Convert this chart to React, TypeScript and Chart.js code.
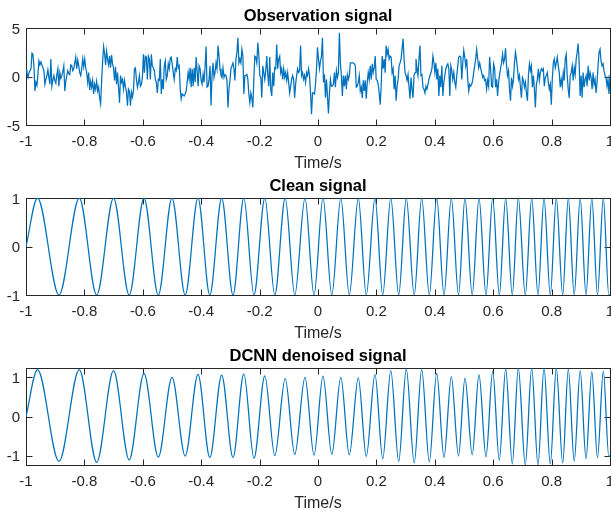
import React, { useEffect, useRef } from "react";
import { Chart, registerables } from "chart.js";

Chart.register(...registerables);

// ---------- axis ticks ----------
const xTickValues = [-1, -0.8, -0.6, -0.4, -0.2, 0, 0.2, 0.4, 0.6, 0.8, 1];
const xTickLabels = ["-1", "-0.8", "-0.6", "-0.4", "-0.2", "0", "0.2", "0.4", "0.6", "0.8", "1"];
const obsYTicks = [-5, 0, 5];
const cleanYTicks = [-1, 0, 1];
const denoisedYTicks = [-1, 0, 1];

// ---------- observation signal (noisy), read left to right ----------
const obsPart1 = [0.7,0.3,-0.1,0.4,0.6,0.8,2.4,2.3,1.0,-1.5,-0.6,-0.9,0.2,1.6,1.2,1.5,1.2,0.9,0.6,-0.8,-0.3,0.1,0.7,-0.1,-0.8,1.8,-1.0,-0.4,0.1,-0.4,-0.7,0.2,0.8,-1.0,0.4,-0.2,0.1,0.5,1.1,-1.5,-0.5,0.1,0.6,0.3,0.2,1.2,1.1,0.6,0.8,1.4,2.0,0.8,1.7,1.1,0.4,0.1,0.8,1.8,1.0,1.8,0.9,0.4,-0.6,0.4,-1.4,-0.5,-1.1,-0.4,-1.8,-0.8,-1.3,-0.5,-1.5,-1.1,-2.2,-2.8,-0.5,1.5,3.1,2.4,1.2,2.6,1.8,1.2,2.1,0.9,2.2,1.3,0.9,-0.4,1.0,-0.8,0.4,-1.1,-2.7,0.1,-0.6,-0.3,-1.3,-0.4,-1.1,-1.6,-3.0,-1.3,-1.5,-3.0,-1.6,-2.1,-1.5,0.8,0.9,-0.3,-1.1,-0.6,0.1,-1.0,-0.8,-0.1,2.3,0.4,2.1,2.0,-0.3,2.1,1.8,-0.3,2.3,1.1,0.9,0.6,-0.3,-0.6,-1.7,-0.3,-0.4,1.8,-1.8,-0.3,-1.3,1.1,1.6,-0.3,0.1,1.3,0.8,1.9];
const obsPart2 = [2.0,1.2,0.4,-0.3,0.8,0.6,2.0,0.9,1.1,-1.3,-2.3,-1.8,-1.9,-2.0,-1.8,-1.5,-0.6,0.4,-0.3,0.9,-1.1,0.8,-1.0,0.9,-0.6,2.0,0.6,-1.0,1.1,0.8,-0.4,-0.8,0.2,-0.6,1.0,3.1,-1.1,-1.0,-0.3,1.1,-3.0,0.1,1.4,-0.1,0.4,1.4,0.8,3.2,2.1,0.8,0.1,-0.1,0.9,-0.1,0.2,0.1,-0.4,-3.2,-1.3,-0.4,0.8,1.1,1.4,0.8,-0.4,1.8,2.5,4.0,1.4,1.8,1.4,2.8,2.1,-1.8,0.1,0.1,0.2,-0.3,-1.8,-2.7,-1.7,-2.2,-3.2,-0.3,2.1,2.0,1.4,3.5,2.3,0.1,-0.1,-2.2,1.1,0.4,-0.3,0.6,2.1,0.2,-1.0,2.0,-1.3,-2.0,0.4,-1.0,0.9,0.8,3.3,0.8,1.8,2.1,0.4,0.8,-0.3,0.8,-0.1,0.4,-0.4,0.4,-0.6,-1.7,-1.0,-0.3,0.1,-0.3,-2.2,-0.8,0.1,0.8,0.4,0.6,3.2,0.1,0.4,-0.3,0.1,-0.6,0.4,0.1,0.8,0.1,-1.7,-3.9,-1.7];
const obsPart3 = [-1.7,-1.8,-0.8,0.8,3.0,1.8,0.8,1.6,2.1,4.0,-0.6,0.2,-2.2,-0.3,-2.0,-3.8,-1.7,-0.3,-1.0,-1.0,-0.8,0.4,-1.1,0.6,-0.1,0.4,4.5,1.4,0.1,-2.0,0.1,-1.0,0.1,-1.3,0.2,-0.3,0.1,1.4,1.4,1.4,1.4,1.3,1.1,-1.1,-1.0,-0.6,0.1,-1.5,-1.1,-2.2,-0.4,-1.5,-0.4,-2.3,-0.6,0.4,-0.3,1.1,-0.3,1.3,0.4,0.9,2.1,-0.3,-0.4,-0.8,-1.7,-2.9,-1.0,2.1,0.8,1.8,0.4,3.2,2.3,2.8,1.8,2.1,2.0,0.4,0.8,-1.3,0.1,-2.5,-1.0,-0.3,1.1,1.4,1.8,2.8,3.9,1.8,0.4,0.1,-0.4,0.2,-1.1,-2.3,-0.1,-1.3,-2.2,0.1,0.4,1.8,0.8,0.1,1.8,3.2,0.1,0.2,-1.1,-1.3,-1.7,-1.0,-1.3,-0.8,-0.3,0.1,0.4,0.8,2.1,1.4,0.4,1.4,-0.3,0.8,-2.0,0.1,-1.1,1.1,-2.0,-0.6,0.1,0.8,1.1,1.3,0.8,-2.0,1.1,0.6,-0.3,0.4,-0.6,-1.1,0.1,1.1,2.0,2.1,2.0];
const obsPart4 = [-0.3,1.4,2.7,2.0,1.1,1.8,-0.3,-1.5,-0.8,-1.0,-0.8,-0.4,0.4,1.1,1.8,2.8,1.8,0.9,1.4,0.9,0.4,-0.1,0.1,-0.4,-0.3,-1.3,-0.4,-1.0,2.0,0.8,-1.0,-1.1,1.3,0.9,-1.1,-0.3,-2.0,-0.6,0.2,0.8,1.4,2.3,1.4,1.8,2.9,1.1,0.1,0.6,-1.3,-2.5,-0.1,-1.0,-0.3,1.4,2.5,1.8,0.8,-0.3,0.1,-1.1,-2.2,-0.1,-0.4,-1.1,-0.6,-1.7,-2.5,0.1,1.3,0.6,1.1,-1.1,0.1,-1.3,-3.2,-0.8,-0.3,0.8,-0.4,0.4,0.8,0.6,0.8,-1.0,-0.1,0.1,0.4,-0.6,-1.3,-0.8,-2.9,-0.3,1.4,1.8,0.9,1.4,2.0,1.1,0.4,-1.1,-0.3,-1.0,0.4,-0.4,1.8,2.3,0.1,-1.3,-2.2,0.1,0.4,1.1,-0.4,0.9,0.2,1.8,2.5,3.4,1.4,-2.0,0.1,-2.2,0.4,-1.1,-0.3,0.1,-1.0,1.1,-0.4,0.4,-0.1,-1.3,0.4,-0.8,-0.3,-1.7,-0.6,1.1,2.5,2.8,1.6,1.1,1.3,0.6,0.1,-0.1,-1.0,-0.3,-1.8,0.1];

// ---------- chirp extrema (time of each peak / trough, seconds) ----------
const startTime = -1;
const endTime = 1;
const peakTimes = [-0.9606,-0.8175,-0.7003,-0.5959,-0.5,-0.411,-0.3298,-0.2541,-0.1822,-0.1123,-0.0445,0.0171,0.0781,0.138,0.1952,0.2493,0.3024,0.3551,0.4065,0.4565,0.5034,0.5514,0.5983,0.6428,0.686,0.7318,0.774,0.8161,0.8572,0.8979,0.9377,0.9771];
const troughTimes = [-0.887,-0.7579,-0.6466,-0.5469,-0.4548,-0.3705,-0.2911,-0.2192,-0.1479,-0.0795,-0.0137,0.0473,0.1072,0.1654,0.2216,0.2764,0.3295,0.3812,0.4315,0.4812,0.5281,0.5753,0.6209,0.6654,0.7099,0.7534,0.7955,0.838,0.8774,0.9178,0.9572,0.9959];

// clean signal extreme values
const cleanStart = 0;
const cleanPeaks = [1,1,1,1,1,1,1,1,1,1,1,1,1,1,1,1,1,1,1,1,1,1,1,1,1,1,1,1,1,1,1,1];
const cleanTroughs = [-1,-1,-1,-1,-1,-1,-1,-1,-1,-1,-1,-1,-1,-1,-1,-1,-1,-1,-1,-1,-1,-1,-1,-1,-1,-1,-1,-1,-1,-1,-1,-1];
const cleanEnd = -0.99;

// DCNN denoised extreme values
const denoisedStart = 0;
const denoisedPeaks = [1.2,1.2,1.17,1.1,1.0,1.08,1.06,1.09,1.04,0.97,1.0,1.03,1.0,0.99,1.08,1.17,1.22,1.2,1.11,1.02,0.98,1.07,1.16,1.22,1.24,1.24,1.24,1.24,1.21,1.17,1.15,1.16];
const denoisedTroughs = [-1.15,-1.17,-1.11,-1.04,-1.01,-1.05,-1.05,-1.07,-1.0,-0.97,-0.99,-0.97,-0.98,-1.02,-1.08,-1.15,-1.19,-1.16,-1.05,-1.01,-0.98,-1.03,-1.12,-1.21,-1.24,-1.24,-1.22,-1.19,-1.14,-1.08,-1.06,-1.02];
const denoisedEnd = -1.0;

// ---------- build point tables ----------
type Pt = { x: number; y: number };

function buildObs(): Pt[] {
  const vals = [...obsPart1, ...obsPart2, ...obsPart3, ...obsPart4];
  const n = vals.length;
  return vals.map((v, i) => ({ x: startTime + ((endTime - startTime) * i) / (n - 1), y: v }));
}

function buildExtrema(start: number, peaks: number[], troughs: number[], end: number): Pt[] {
  const pts: Pt[] = [{ x: startTime, y: start }];
  for (let i = 0; i < peakTimes.length; i++) {
    pts.push({ x: peakTimes[i], y: peaks[i] });
    pts.push({ x: troughTimes[i], y: troughs[i] });
  }
  pts.push({ x: endTime, y: end });
  return pts;
}

const FONT = "'Liberation Sans', Arial, Helvetica, sans-serif";
const AXIS_COLOR = "#262626";
const LINE_COLOR = "#0072BD";

interface PlotProps {
  title: string;
  points: Pt[];
  yMin: number;
  yMax: number;
  yTicks: number[];
  smooth: boolean;
  top: number;
}

function SignalPlot({ title, points, yMin, yMax, yTicks, smooth, top }: PlotProps) {
  const ref = useRef<HTMLCanvasElement | null>(null);

  useEffect(() => {
    const canvas = ref.current;
    if (!canvas) return;

    const boxPlugin = {
      id: "matlabBox",
      beforeDatasetsDraw(chart: any) {
        const { ctx, chartArea } = chart;
        const { left, right, top: t, bottom } = chartArea;
        const xs = chart.scales.x;
        const ys = chart.scales.y;
        const tl = 6;
        ctx.save();
        ctx.strokeStyle = AXIS_COLOR;
        ctx.lineWidth = 1;
        ctx.strokeRect(left + 0.5, t + 0.5, right - left, bottom - t);
        ctx.beginPath();
        for (const v of xTickValues) {
          const px = Math.round(xs.getPixelForValue(v)) + 0.5;
          ctx.moveTo(px, bottom + 0.5);
          ctx.lineTo(px, bottom + 0.5 - tl);
          ctx.moveTo(px, t + 0.5);
          ctx.lineTo(px, t + 0.5 + tl);
        }
        for (const v of yTicks) {
          const py = Math.round(ys.getPixelForValue(v)) + 0.5;
          ctx.moveTo(left + 0.5, py);
          ctx.lineTo(left + 0.5 + tl, py);
          ctx.moveTo(right + 0.5, py);
          ctx.lineTo(right + 0.5 - tl, py);
        }
        ctx.stroke();
        ctx.restore();
      },
    };

    const chart = new Chart(canvas, {
      type: "line",
      data: {
        datasets: [
          {
            data: points,
            borderColor: LINE_COLOR,
            borderWidth: 1.25,
            pointRadius: 0,
            fill: false,
            tension: 0,
            cubicInterpolationMode: smooth ? "monotone" : "default",
          } as any,
        ],
      },
      options: {
        responsive: false,
        animation: false,
        devicePixelRatio: 1,
        events: [],
        layout: { padding: { left: 0, right: 1, top: 0, bottom: 0 } },
        plugins: {
          legend: { display: false },
          tooltip: { enabled: false },
          title: {
            display: true,
            text: title,
            fullSize: false,
            color: "#000000",
            font: { family: FONT, size: 16.5, weight: "bold", lineHeight: "20px" },
            padding: { top: 6, bottom: 2 },
          },
        },
        scales: {
          x: {
            type: "linear",
            min: -1,
            max: 1,
            grid: { display: false, drawTicks: false },
            border: { display: false },
            afterBuildTicks: (scale: any) => {
              scale.ticks = xTickValues.map((v) => ({ value: v }));
            },
            afterFit: (scale: any) => {
              scale.height = 45;
              scale.paddingLeft = 0;
              scale.paddingRight = 0;
            },
            ticks: {
              autoSkip: false,
              maxRotation: 0,
              minRotation: 0,
              padding: 8,
              color: AXIS_COLOR,
              font: { family: FONT, size: 15 },
              callback: (_v: any, i: number) => xTickLabels[i],
            },
            title: {
              display: true,
              text: "Time/s",
              color: AXIS_COLOR,
              font: { family: FONT, size: 16, lineHeight: "16px" },
              padding: { top: 0, bottom: -1.5 },
            },
          },
          y: {
            type: "linear",
            min: yMin,
            max: yMax,
            grid: { display: false, drawTicks: false },
            border: { display: false },
            afterBuildTicks: (scale: any) => {
              scale.ticks = yTicks.map((v) => ({ value: v }));
            },
            afterFit: (scale: any) => {
              scale.width = 26;
              scale.paddingTop = 0;
              scale.paddingBottom = 0;
            },
            ticks: {
              autoSkip: false,
              padding: 6,
              labelOffset: 1.5,
              color: AXIS_COLOR,
              font: { family: FONT, size: 15 },
              callback: (v: any) => String(v),
            },
          },
        },
      } as any,
      plugins: [boxPlugin as any],
    });

    return () => chart.destroy();
  }, []);

  return (
    <canvas
      ref={ref}
      width={611}
      height={170}
      style={{ position: "absolute", left: 0, top, width: 611, height: 170, display: "block" }}
    />
  );
}

export default function App() {
  const obs = buildObs();
  const clean = buildExtrema(cleanStart, cleanPeaks, cleanTroughs, cleanEnd);
  const denoised = buildExtrema(denoisedStart, denoisedPeaks, denoisedTroughs, denoisedEnd);
  return (
    <div style={{ position: "absolute", left: 0, top: 0, width: 611, height: 511, background: "#ffffff" }}>
      <SignalPlot title="Observation signal" points={obs} yMin={-5} yMax={5} yTicks={obsYTicks} smooth={false} top={0} />
      <SignalPlot title="Clean signal" points={clean} yMin={-1} yMax={1} yTicks={cleanYTicks} smooth={true} top={170} />
      <SignalPlot title="DCNN denoised signal" points={denoised} yMin={-1.24} yMax={1.24} yTicks={denoisedYTicks} smooth={true} top={340} />
    </div>
  );
}
